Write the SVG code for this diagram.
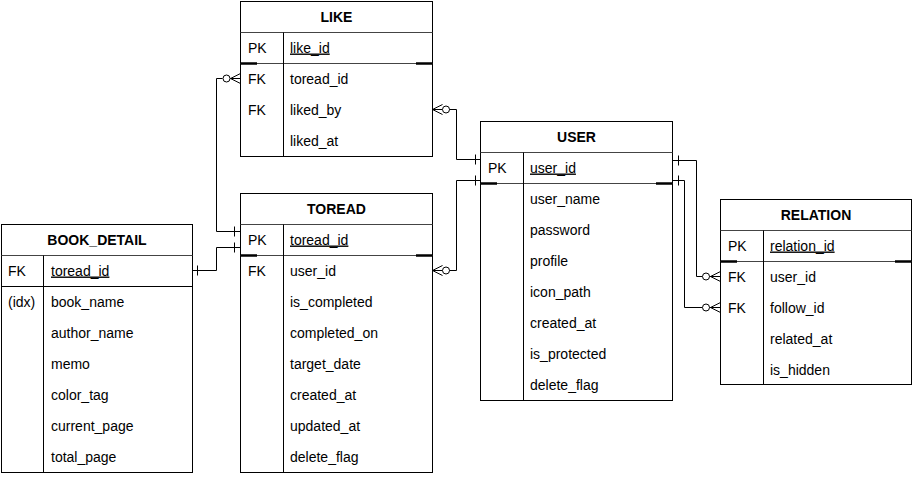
<svg xmlns="http://www.w3.org/2000/svg" width="914" height="478" viewBox="0 0 914 478">
<style>
.bg{fill:#fff}
.box{fill:#fff;stroke:#000;stroke-width:1}
.ln{stroke:#000;stroke-width:1;fill:none}
.sep{stroke:#444;stroke-width:1;fill:none}
.thk{stroke:#000;stroke-width:2.5;fill:none}
.t{font-family:"Liberation Sans",Arial,Helvetica,sans-serif;font-size:14px;fill:#000}
.h{font-family:"Liberation Sans",Arial,Helvetica,sans-serif;font-size:14px;font-weight:bold;fill:#000;text-anchor:middle}
.u{text-decoration:underline}
.c{stroke:#000;stroke-width:1;fill:none}
.o{stroke:#000;stroke-width:1;fill:#fff}
</style>
<rect class="bg" x="0" y="0" width="914" height="478"/>

<g id="connectors">
  <!-- LIKE.toread_id -> TOREAD.toread_id -->
  <path class="c" d="M222.5,78.5 H216.5 V231.5 H240.5"/>
  <circle class="o" cx="226.5" cy="78.5" r="3.5"/>
  <path class="c" d="M230.5,78.5 L240.5,73.5 M230.5,78.5 L240.5,83.5 M230.5,78.5 H240.5"/>
  <path class="c" d="M234.5,226.5 V236.5"/>
  <!-- BOOK_DETAIL.toread_id -> TOREAD.toread_id -->
  <path class="c" d="M192.5,270.5 H216.5 V247.5 H240.5"/>
  <path class="c" d="M197.5,265.5 V275.5 M234.5,242.5 V252.5"/>
  <!-- LIKE.liked_by -> USER.user_id -->
  <path class="c" d="M432.5,109.5 L442.5,104.5 M432.5,109.5 L442.5,114.5 M432.5,109.5 H442.5"/>
  <circle class="o" cx="446" cy="109.5" r="3.5"/>
  <path class="c" d="M449.5,109.5 H456.5 V159.5 H480.5"/>
  <path class="c" d="M475.5,154.5 V164.5"/>
  <!-- TOREAD.user_id -> USER.user_id -->
  <path class="c" d="M432.5,270.5 L442.5,265.5 M432.5,270.5 L442.5,275.5 M432.5,270.5 H442.5"/>
  <circle class="o" cx="446" cy="270.5" r="3.5"/>
  <path class="c" d="M449.5,270.5 H456.5 V180.5 H480.5"/>
  <path class="c" d="M475.5,175.5 V185.5"/>
  <!-- USER.user_id -> RELATION.user_id -->
  <path class="c" d="M672.5,160.5 H696.5 V276.5 H702.5"/>
  <path class="c" d="M678.5,155.5 V165.5"/>
  <circle class="o" cx="706" cy="276.5" r="3.5"/>
  <path class="c" d="M710.5,276.5 L720.5,271.5 M710.5,276.5 L720.5,281.5 M709.5,276.5 H720.5"/>
  <!-- USER.user_id -> RELATION.follow_id -->
  <path class="c" d="M672.5,180.5 H684.5 V307.5 H702.5"/>
  <path class="c" d="M678.5,175.5 V185.5"/>
  <circle class="o" cx="706" cy="307.5" r="3.5"/>
  <path class="c" d="M710.5,307.5 L720.5,302.5 M710.5,307.5 L720.5,312.5 M709.5,307.5 H720.5"/>
</g>

<g id="like">
  <rect class="box" x="240.5" y="1.5" width="192" height="155"/>
  <path class="sep" d="M240.5,32.5 H432.5 M240.5,63.5 H432.5"/>
  <path class="thk" d="M240.5,63.5 H257 M416 63.5 H432.5"/>
  <path class="ln" d="M283.5,32.5 V156.5"/>
  <text class="h" x="336.5" y="21.5">LIKE</text>
  <text class="t" x="248" y="52.5">PK</text>
  <text class="t u" x="290" y="52.5">like_id</text>
  <text class="t" x="248" y="83.5">FK</text>
  <text class="t" x="290" y="83.5">toread_id</text>
  <text class="t" x="248" y="114.5">FK</text>
  <text class="t" x="290" y="114.5">liked_by</text>
  <text class="t" x="290" y="145.5">liked_at</text>
</g>

<g id="toread">
  <rect class="box" x="240.5" y="193.5" width="192" height="279"/>
  <path class="sep" d="M240.5,224.5 H432.5 M240.5,255.5 H432.5"/>
  <path class="thk" d="M240.5,255.5 H257 M416,255.5 H432.5"/>
  <path class="ln" d="M283.5,224.5 V472.5"/>
  <text class="h" x="336.5" y="213.5">TOREAD</text>
  <text class="t" x="248" y="244.5">PK</text>
  <text class="t u" x="290" y="244.5">toread_id</text>
  <text class="t" x="248" y="275.5">FK</text>
  <text class="t" x="290" y="275.5">user_id</text>
  <text class="t" x="290" y="306.5">is_completed</text>
  <text class="t" x="290" y="337.5">completed_on</text>
  <text class="t" x="290" y="368.5">target_date</text>
  <text class="t" x="290" y="399.5">created_at</text>
  <text class="t" x="290" y="430.5">updated_at</text>
  <text class="t" x="290" y="461.5">delete_flag</text>
</g>

<g id="user">
  <rect class="box" x="480.5" y="121.5" width="192" height="279"/>
  <path class="sep" d="M480.5,152.5 H672.5 M480.5,183.5 H672.5"/>
  <path class="thk" d="M480.5,183.5 H497 M656,183.5 H672.5"/>
  <path class="ln" d="M523.5,152.5 V400.5"/>
  <text class="h" x="576.5" y="141.5">USER</text>
  <text class="t" x="488" y="172.5">PK</text>
  <text class="t u" x="530" y="172.5">user_id</text>
  <text class="t" x="530" y="203.5">user_name</text>
  <text class="t" x="530" y="234.5">password</text>
  <text class="t" x="530" y="265.5">profile</text>
  <text class="t" x="530" y="296.5">icon_path</text>
  <text class="t" x="530" y="327.5">created_at</text>
  <text class="t" x="530" y="358.5">is_protected</text>
  <text class="t" x="530" y="389.5">delete_flag</text>
</g>

<g id="relation">
  <rect class="box" x="720.5" y="199.5" width="191" height="185"/>
  <path class="sep" d="M720.5,230.5 H911.5 M720.5,261.5 H911.5"/>
  <path class="thk" d="M720.5,261.5 H737 M895,261.5 H911.5"/>
  <path class="ln" d="M763.5,230.5 V384.5"/>
  <text class="h" x="816" y="219.5">RELATION</text>
  <text class="t" x="728" y="250.5">PK</text>
  <text class="t u" x="770" y="250.5">relation_id</text>
  <text class="t" x="728" y="281.5">FK</text>
  <text class="t" x="770" y="281.5">user_id</text>
  <text class="t" x="728" y="312.5">FK</text>
  <text class="t" x="770" y="312.5">follow_id</text>
  <text class="t" x="770" y="343.5">related_at</text>
  <text class="t" x="770" y="374.5">is_hidden</text>
</g>

<g id="book_detail">
  <rect class="box" x="1.5" y="224.5" width="191" height="248"/>
  <path class="sep" d="M1.5,255.5 H192.5"/>
  <path class="ln" d="M1.5,286.5 H192.5"/>
  <path class="ln" d="M43.5,255.5 V472.5"/>
  <text class="h" x="97" y="244.5">BOOK_DETAIL</text>
  <text class="t" x="8" y="275.5">FK</text>
  <text class="t u" x="51" y="275.5">toread_id</text>
  <text class="t" x="8" y="306.5">(idx)</text>
  <text class="t" x="51" y="306.5">book_name</text>
  <text class="t" x="51" y="337.5">author_name</text>
  <text class="t" x="51" y="368.5">memo</text>
  <text class="t" x="51" y="399.5">color_tag</text>
  <text class="t" x="51" y="430.5">current_page</text>
  <text class="t" x="51" y="461.5">total_page</text>
</g>
</svg>
